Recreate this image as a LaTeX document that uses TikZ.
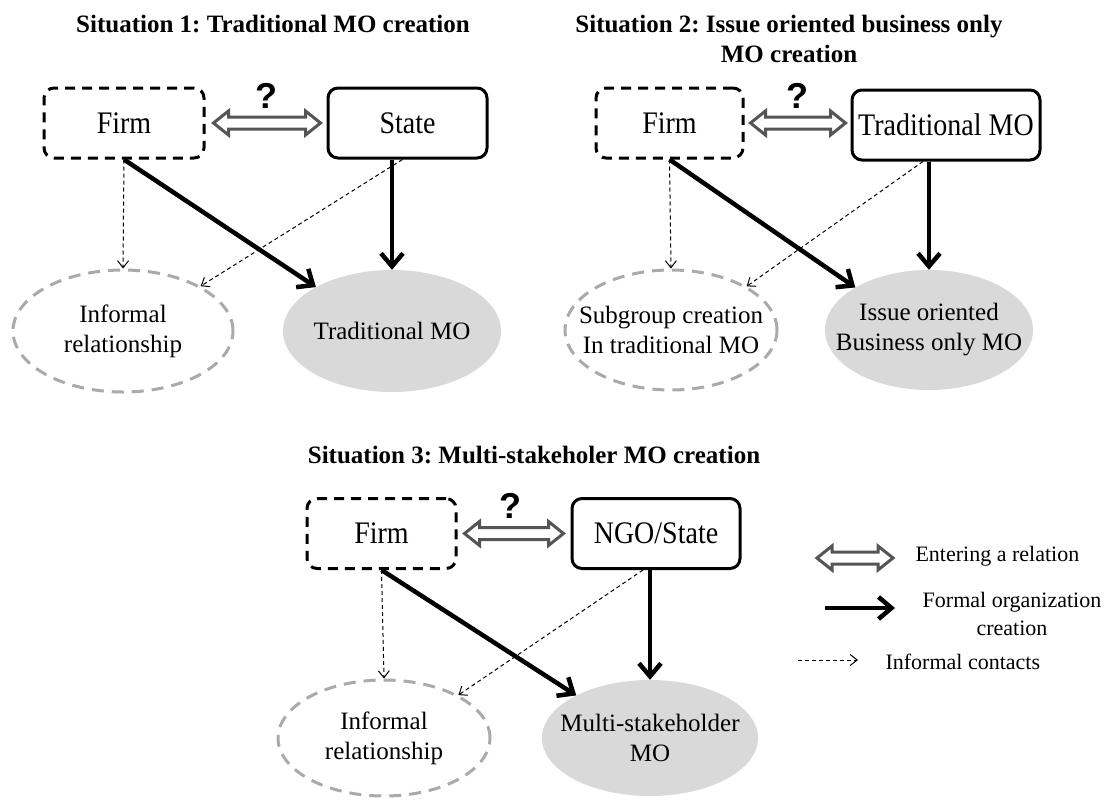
\documentclass[tikz,border=0pt]{standalone}
\usepackage{fontspec}
\setmainfont{Liberation Serif}
\newfontfamily\qfont{Liberation Sans}
\usetikzlibrary{arrows.meta,calc,shapes.geometric}
\definecolor{relgray}{HTML}{555555}
\definecolor{ellgray}{HTML}{AAAAAA}
\definecolor{fillgray}{HTML}{D9D9D9}
\newcommand\fs[2]{\fontsize{#1}{#2}\selectfont}
\newcommand\tallbox[1]{\scalebox{1}[1.12]{#1}}
\newcommand\relarrow[2]{%
  \draw[relstyle] let \p1=(#1), \p2=(#2), \n1={\x2-\x1-30pt} in
  (\p1) -- ++(15pt,12pt) -- ++(0,-6pt) -- ++(\n1,0) -- ++(0,6pt) -- (\p2)
  -- ++(-15pt,-12pt) -- ++(0,6pt) -- ++(-\n1,0) -- ++(0,-6pt) -- cycle;}
\tikzset{
  relstyle/.style={draw=relgray,fill=white,line width=3pt,line join=miter},
  firmbox/.style={draw=black,line width=3pt,dash pattern=on 10pt off 7pt,rounded corners=10pt,
     minimum height=70pt,inner sep=0pt,font=\fs{28}{32}},
  solidbox/.style={draw=black,line width=3pt,rounded corners=10pt,
     minimum height=70pt,inner sep=0pt,font=\fs{28}{32}},
  elltext/.style={align=center,font=\fs{25}{30},inner sep=0pt},
  infell/.style={ellipse,draw=ellgray,line width=3pt,dash pattern=on 12pt off 8pt,inner sep=0pt},
  moell/.style={ellipse,fill=fillgray,inner sep=0pt},
  formal/.style={line width=4.5pt,-{Straight Barb[length=13pt,width=22pt]}},
  informal/.style={line width=1pt,dash pattern=on 4pt off 3pt,-{Straight Barb[length=7pt,width=11pt]}},
  title/.style={font=\bfseries\fs{25}{30},align=center},
  qmark/.style={font=\qfont\bfseries\fs{36}{36}},
  legtext/.style={font=\fs{22}{28},align=center}
}
\begin{document}
\frenchspacing
\begin{tikzpicture}[x=1pt,y=-1pt]
\fill[white] (0,0) rectangle (1109,801);
\useasboundingbox (0,0) rectangle (1109,801);

% ---------- Situation 1
\node[title] (t1) at (273,24) {Situation 1: Traditional MO creation};
\node[firmbox,minimum width=160pt] (firm1) at (124,123) {\tallbox{Firm}};
\node[solidbox,minimum width=159pt] (state1) at (407.5,123) {\tallbox{State}};
\node[infell,minimum width=220pt,minimum height=122pt,
  label={[elltext]center:{Informal\\relationship}}] (inf1) at (123,331) {};
\node[moell,minimum width=218pt,minimum height=122pt,
  label={[elltext]center:{Traditional MO}}] (mo1) at (392,331) {};
\relarrow{$(firm1.east)+(8pt,0)$}{$(state1.west)+(-6pt,0)$}
\node[qmark] (q1) at (266,96) {?};
\draw[informal] (firm1.south) -- (inf1.north);
\draw[formal] (firm1.south) -- (mo1.150);
\draw[informal] ($(state1.south)+(-5,0)$) -- (inf1.30);
\draw[formal] (state1.south -| mo1.north) -- (mo1.north);

% ---------- Situation 2
\node[title] (t2) at (789,39) {Situation 2: Issue oriented business only\\MO creation};
\node[firmbox,minimum width=147pt] (firm2) at (669.5,123) {\tallbox{Firm}};
\node[solidbox,minimum width=188pt] (tmo2) at (946,125) {\tallbox{Traditional MO}};
\node[infell,minimum width=212pt,minimum height=120pt,
  label={[elltext]center:{Subgroup creation\\In traditional MO}}] (sub2) at (671,330) {};
\node[moell,minimum width=208pt,minimum height=120pt,
  label={[elltext]center:{Issue oriented\\Business only MO}}] (iss2) at (929,330) {};
\relarrow{$(firm2.east)+(6pt,0)$}{$(tmo2.west |- firm2.east)+(-5pt,0)$}
\node[qmark] (q2) at (797,96) {?};
\draw[informal] (firm2.south) -- (sub2.north);
\draw[formal] (firm2.south) -- (iss2.150);
\draw[informal] ($(tmo2.south)+(-23,0)$) -- (sub2.30);
\draw[formal] (tmo2.south -| iss2.north) -- (iss2.north);

% ---------- Situation 3
\node[title] (t3) at (534,455) {Situation 3: Multi-stakeholer MO creation};
\node[firmbox,minimum width=149pt] (firm3) at (381.5,533.5) {\tallbox{Firm}};
\node[solidbox,minimum width=168pt] (ngo3) at (656,533.5) {\tallbox{NGO/State}};
\node[infell,minimum width=212pt,minimum height=116pt,
  label={[elltext]center:{Informal\\relationship}}] (inf3) at (384,738) {};
\node[moell,minimum width=216pt,minimum height=116pt,
  label={[elltext]center:{Multi-stakeholder\\MO}}] (ms3) at (650,738) {};
\relarrow{$(firm3.east)+(7pt,0)$}{$(ngo3.west)+(-7pt,0)$}
\node[qmark] (q3) at (510,506) {?};
\draw[informal] (firm3.south) -- (inf3.north);
\draw[formal] (firm3.south) -- (ms3.150);
\draw[informal] ($(ngo3.south)+(-13,0)$) -- (inf3.30);
\draw[formal] (ngo3.south -| ms3.north) -- (ms3.north);

% ---------- Legend
\coordinate (l1a) at (817,558);
\coordinate (l1b) at (893,558);
\relarrow{l1a}{l1b}
\node[legtext,anchor=west] (lt1) at (912,556) {Entering a relation};
\coordinate (l2a) at (825,608);
\coordinate (l2b) at (895,608);
\draw[formal] (l2a) -- (l2b);
\node[legtext] (lt2) at (1012,614) {Formal organization\\creation};
\coordinate (l3a) at (798,660);
\coordinate (l3b) at (858,660);
\draw[informal] (l3a) -- (l3b);
\node[legtext,anchor=west] (lt3) at (882,662) {Informal contacts};
\end{tikzpicture}
\end{document}
